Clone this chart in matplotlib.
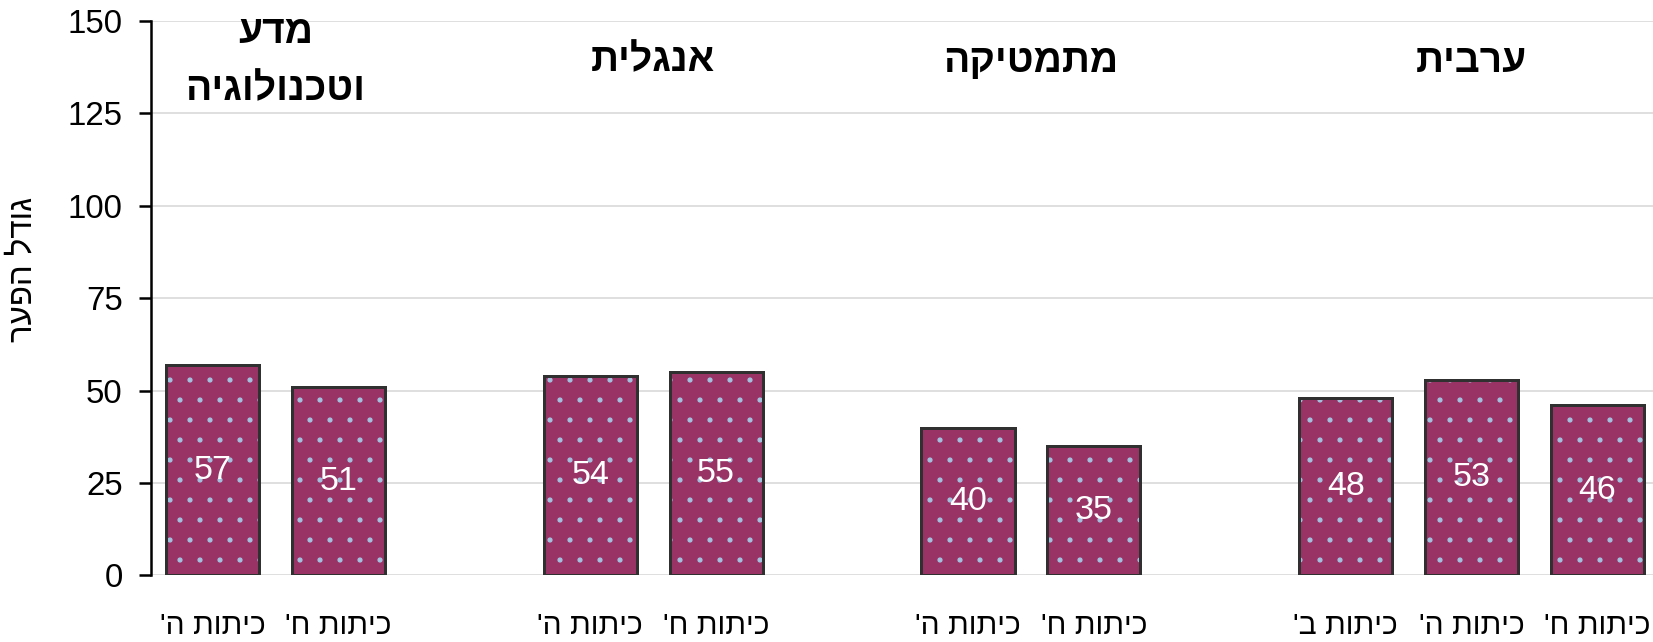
import numpy as np
import matplotlib
matplotlib.use("Agg")
import matplotlib.pyplot as plt


def rtl(s):
    # no bidi in matplotlib: flip each hebrew line by hand
    return "\n".join(line[::-1] for line in s.split("\n"))


subjects = ["מדע\nוטכנולוגיה", "אנגלית", "מתמטיקה", "ערבית"]
grades = [["כיתות ה'", "כיתות ח'"],
          ["כיתות ה'", "כיתות ח'"],
          ["כיתות ה'", "כיתות ח'"],
          ["כיתות ב'", "כיתות ה'", "כיתות ח'"]]
gaps = [[57, 51], [54, 55], [40, 35], [48, 53, 46]]
ylabel = "גודל הפער"
yticks = [0, 25, 50, 75, 100, 125, 150]

DPI = 120


def pt(px):
    return px * 72 / DPI


plt.rcParams['font.family'] = ['Liberation Sans', 'DejaVu Sans']
plt.rcParams['hatch.linewidth'] = 0.7

fig = plt.figure(figsize=(1653 / DPI, 642 / DPI), dpi=DPI)
ax = fig.add_axes([0.0912, 0.1036, 0.9088, 0.8637])

# one slot per bar, an empty slot between subjects
pos, vals, labels, centers = [], [], [], []
x = 0
for v, lab in zip(gaps, grades):
    xs = np.arange(len(v)) + x
    pos.extend(xs)
    vals.extend(v)
    labels.extend(rtl(l) for l in lab)
    centers.append(xs.mean())
    x = xs[-1] + 2

w = 0.74
fill = ax.bar(pos, vals, width=w, color='#993366', linewidth=0, zorder=2)
ax.bar(pos, vals, width=w, facecolor='none', edgecolor='#a4c2e0',
       hatch='.', linewidth=0, zorder=3)
ax.bar(pos, vals, width=w, facecolor='none', edgecolor='#303030',
       linewidth=pt(3), zorder=4)
ax.bar_label(fill, labels=[str(v) for v in vals], label_type='center',
             color='white', fontsize=pt(34), zorder=5)

for c, s in zip(centers, subjects):
    ax.text(c, 139, rtl(s), ha='center', va='center', fontweight='bold',
            fontsize=pt(39), linespacing=1.75)

ax.set_xlim(-0.49, 11.44)
ax.set_ylim(0, 150)
ax.set_yticks(yticks)
ax.set_xticks(pos)
ax.set_xticklabels(labels, fontsize=pt(30))
ax.tick_params(axis='x', length=0, pad=pt(37))
ax.tick_params(axis='y', labelsize=pt(33), length=pt(12), width=pt(2.5),
               pad=pt(16))
ax.yaxis.grid(True, color='#d9d9d9', linewidth=1, zorder=0)
ax.set_axisbelow(True)
for side in ['top', 'right', 'bottom']:
    ax.spines[side].set_visible(False)
ax.spines['left'].set_linewidth(pt(2.5))

fig.text(23 / 1653, 1 - 269 / 642, rtl(ylabel), rotation=90,
         ha='center', va='center', fontsize=pt(33))

fig.savefig("out.png", dpi=DPI)
